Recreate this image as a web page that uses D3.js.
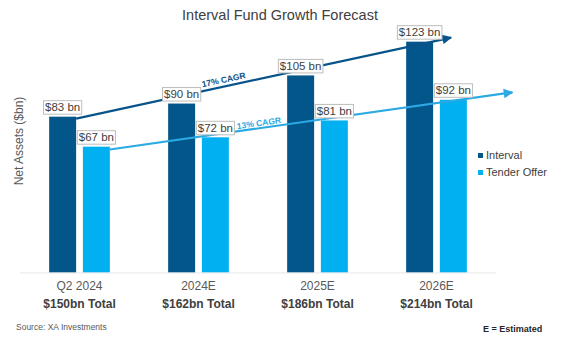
<!DOCTYPE html>
<html>
<head>
<meta charset="utf-8">
<script src="https://cdn.jsdelivr.net/npm/d3@7"></script>
<style>
  html, body { margin: 0; padding: 0; background: #ffffff; }
  svg { display: block; font-family: "Liberation Sans", Arial, sans-serif; }
</style>
</head>
<body>
<svg id="chart" width="569" height="337"></svg>
<script>
// ---- data ----
const categories = ["Q2 2024", "2024E", "2025E", "2026E"];
const seriesNames = ["Interval", "Tender Offer"];
const intervalValues = [83, 90, 105, 123];
const tenderValues = [67, 72, 81, 92];
const totalLabels = ["$150bn Total", "$162bn Total", "$186bn Total", "$214bn Total"];
// growth arrows: rate label, start and end level ($bn) along the value axis
const cagrRates = ["17% CAGR", "13% CAGR"];
const trendStart = [82, 65.5];
const trendEnd = [125.2, 96];

const colors = ["#02568a", "#00b0f0"];
const lineColors = ["#07538a", "#2aa9e3"];

const svg = d3.select("#chart");

// ---- scales ----
const x = d3.scaleBand().domain(categories).range([20, 496])
  .paddingInner(0.49).paddingOuter(0.245);
const xs = d3.scaleBand().domain(seriesNames).range([0, x.bandwidth()])
  .paddingInner(0.2);
const y = d3.scaleLinear().domain([0, 130]).range([272.3, 272.3 - 130 * 1.875]);

const seriesValues = [intervalValues, tenderValues];

// ---- title ----
svg.append("text").attr("x", 280).attr("y", 19.5).attr("text-anchor", "middle")
  .attr("font-size", 14.5).attr("fill", "#404040").text("Interval Fund Growth Forecast");

// ---- y axis title ----
svg.append("text").attr("transform", "translate(22.5,141) rotate(-90)")
  .attr("text-anchor", "middle").attr("font-size", 12).attr("fill", "#595959")
  .text("Net Assets ($bn)");

// ---- baseline ----
svg.append("line").attr("x1", 20).attr("x2", 496).attr("y1", y(0) + 0.5).attr("y2", y(0) + 0.5)
  .attr("stroke", "#ececec").attr("stroke-width", 1.2);

// ---- bars ----
const groups = svg.selectAll("g.cat").data(categories).join("g")
  .attr("class", "cat").attr("transform", d => `translate(${x(d)},0)`);

seriesNames.forEach((s, si) => {
  groups.append("rect")
    .attr("x", xs(s)).attr("width", xs.bandwidth())
    .attr("y", (d, i) => y(seriesValues[si][i]))
    .attr("height", (d, i) => y(0) - y(seriesValues[si][i]))
    .attr("fill", colors[si]);
});

// ---- growth arrows ----
const defs = svg.append("defs");
lineColors.forEach((c, i) => {
  defs.append("marker").attr("id", "arrow" + i)
    .attr("viewBox", "0 0 10 10").attr("refX", 9).attr("refY", 5)
    .attr("markerWidth", 5).attr("markerHeight", 4.4).attr("orient", "auto")
    .attr("markerUnits", "strokeWidth")
    .append("path").attr("d", "M0,0 L10,5 L0,10 Z").attr("fill", c);
});

const first = categories[0], last = categories[categories.length - 1];
const arrowReach = [18, 45.6];
const trends = seriesNames.map((s, i) => {
  const x1 = x(first) + xs(s) + xs.bandwidth();
  const x2 = x(last) + xs(s) + xs.bandwidth() + arrowReach[i];
  return { x1, y1: y(trendStart[i]), x2, y2: y(trendEnd[i]) };
});

svg.selectAll("line.trend").data(trends).join("line").attr("class", "trend")
  .attr("x1", d => d.x1).attr("y1", d => d.y1)
  .attr("x2", d => d.x2).attr("y2", d => d.y2)
  .attr("stroke", (d, i) => lineColors[i]).attr("stroke-width", 2.2)
  .attr("marker-end", (d, i) => `url(#arrow${i})`);

// rate labels placed along each arrow
const labelAt = [0.397, 0.372];
const labelLift = [3.8, 2.2];
trends.forEach((t, i) => {
  const px = t.x1 + (t.x2 - t.x1) * labelAt[i];
  const py = t.y1 + (t.y2 - t.y1) * labelAt[i];
  const ang = Math.atan2(t.y2 - t.y1, t.x2 - t.x1) * 180 / Math.PI;
  svg.append("text")
    .attr("transform", `translate(${px},${py}) rotate(${ang}) translate(0,${-labelLift[i]})`)
    .attr("text-anchor", "middle").attr("font-size", 8.5).attr("font-weight", "bold")
    .attr("fill", lineColors[i]).text(cagrRates[i]);
});

// ---- value labels in boxes ----
seriesNames.forEach((s, si) => {
  categories.forEach((c, ci) => {
    const v = seriesValues[si][ci];
    const cx = x(c) + xs(s) + xs.bandwidth() / 2;
    const bottom = y(v) - 2.5;
    const g = svg.append("g");
    const txt = g.append("text").attr("x", cx).attr("y", bottom - 3)
      .attr("text-anchor", "middle").attr("font-size", 11.5).attr("fill", "#404040")
      .text(`$${v} bn`);
    const bb = txt.node().getBBox();
    g.insert("rect", "text")
      .attr("x", cx - bb.width / 2 - 1.5).attr("y", bottom - 13.5)
      .attr("width", bb.width + 3).attr("height", 13.5)
      .attr("fill", "#ffffff").attr("stroke", "#bdbdbd").attr("stroke-width", 1);
  });
});

// ---- category axis labels ----
groups.append("text").attr("x", x.bandwidth() / 2).attr("y", 290)
  .attr("text-anchor", "middle").attr("font-size", 12).attr("fill", "#595959")
  .text(d => d);
groups.append("text").attr("x", x.bandwidth() / 2).attr("y", 307.8)
  .attr("text-anchor", "middle").attr("font-size", 12).attr("font-weight", "bold")
  .attr("fill", "#404040").text((d, i) => totalLabels[i]);

// ---- legend ----
const legend = svg.selectAll("g.leg").data(seriesNames).join("g").attr("class", "leg")
  .attr("transform", (d, i) => `translate(478,${153 + i * 17})`);
legend.append("rect").attr("width", 5).attr("height", 5).attr("fill", (d, i) => colors[i]);
legend.append("text").attr("x", 8).attr("y", 6.3).attr("font-size", 11)
  .attr("fill", "#404040").text(d => d);

// ---- footnotes ----
svg.append("text").attr("x", 16).attr("y", 329.5).attr("font-size", 8.5)
  .attr("fill", "#595959").text("Source: XA Investments");
svg.append("text").attr("x", 483).attr("y", 331.5).attr("font-size", 9)
  .attr("font-weight", "bold").attr("fill", "#262626").text("E = Estimated");
</script>
</body>
</html>
